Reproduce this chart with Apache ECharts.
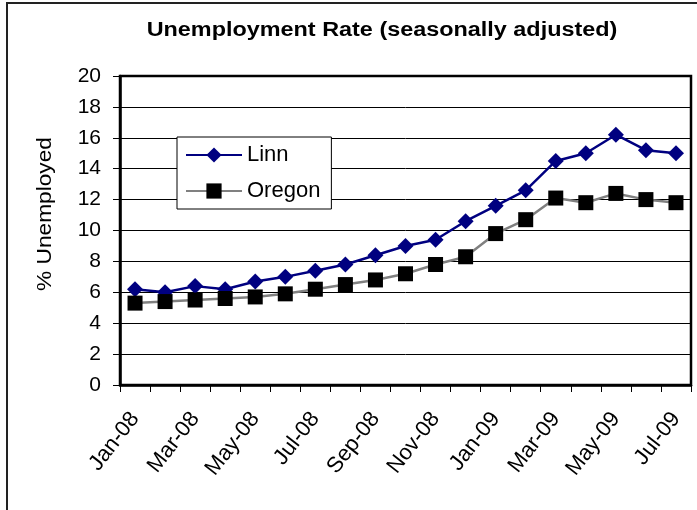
<!DOCTYPE html>
<html>
<head>
<meta charset="utf-8">
<script src="https://cdn.jsdelivr.net/npm/echarts@6/dist/echarts.min.js"></script>
<style>
  html, body { margin: 0; padding: 0; background: #fff; }
  #chart { width: 697px; height: 510px; }
</style>
</head>
<body>
<div id="chart"></div>
<script>
const months = ['Jan-08','Feb-08','Mar-08','Apr-08','May-08','Jun-08','Jul-08','Aug-08','Sep-08','Oct-08','Nov-08','Dec-08','Jan-09','Feb-09','Mar-09','Apr-09','May-09','Jun-09','Jul-09'];
const linn = [6.2, 6.0, 6.4, 6.2, 6.7, 7.0, 7.4, 7.8, 8.4, 9.0, 9.4, 10.6, 11.6, 12.6, 14.5, 15.0, 16.2, 15.2, 15.0];
const oregon = [5.3, 5.4, 5.5, 5.6, 5.7, 5.9, 6.2, 6.5, 6.8, 7.2, 7.8, 8.3, 9.8, 10.7, 12.1, 11.8, 12.4, 12.0, 11.8];
const yTicks = [0, 2, 4, 6, 8, 10, 12, 14, 16, 18, 20];
const titleText = 'Unemployment Rate (seasonally adjusted)';
const yName = '% Unemployed';

const FONT = 'Liberation Sans, Arial, sans-serif';
const chart = echarts.init(document.getElementById('chart'), null, { renderer: 'canvas' });
chart.setOption({
  animation: false,
  backgroundColor: '#fff',
  textStyle: { fontFamily: FONT },
  grid: {
    left: 120, right: 6, top: 76, bottom: 125,
    show: true, borderColor: '#000', borderWidth: 2.5, backgroundColor: 'transparent'
  },
  graphic: [
    { type: 'rect', shape: { x: 7, y: 3, width: 720, height: 540 }, style: { fill: 'none', stroke: '#222', lineWidth: 2 }, silent: true },
    { type: 'text', x: 382, y: 30, scaleX: 1.17, style: { text: titleText, fontFamily: FONT, fontWeight: 'bold', fontSize: 20, fill: '#000', textAlign: 'center', textVerticalAlign: 'middle' } },
    { type: 'text', x: 45, y: 214, rotation: Math.PI / 2, scaleX: 1.08, style: { text: yName, fontFamily: FONT, fontSize: 21, fill: '#000', textAlign: 'center', textVerticalAlign: 'middle' } }
  ],
  legend: {
    orient: 'vertical',
    left: 177, top: 137,
    padding: [7, 11, 7, 8],
    itemWidth: 56, itemHeight: 19, itemGap: 14,
    backgroundColor: '#fff',
    borderColor: '#000', borderWidth: 1,
    textStyle: { fontFamily: FONT, fontSize: 22, color: '#000' },
    data: ['Linn', 'Oregon']
  },
  xAxis: {
    type: 'category',
    data: months,
    boundaryGap: true,
    axisLine: { lineStyle: { color: '#000', width: 2.5 } },
    axisTick: { show: true, interval: 0, length: 7, lineStyle: { color: '#000', width: 1 } },
    axisLabel: { interval: 1, rotate: 52, fontSize: 22, color: '#000', fontFamily: FONT, margin: 30 },
    splitLine: { show: false }
  },
  yAxis: {
    type: 'value',
    min: 0, max: 20, interval: 2,
    axisLine: { show: true, lineStyle: { color: '#000', width: 2.5 } },
    axisTick: { show: true, inside: false, length: 7, lineStyle: { color: '#000', width: 1 } },
    axisLabel: { fontSize: 21, color: '#000', fontFamily: FONT, margin: 19,
      formatter: function (v) { return yTicks.indexOf(v) >= 0 ? String(v) : ''; } },
    splitLine: { show: true, lineStyle: { color: '#000', width: 1 } }
  },
  series: [
    {
      name: 'Linn', type: 'line', data: linn,
      symbol: 'diamond', symbolSize: 16,
      lineStyle: { color: '#000080', width: 2.5 },
      itemStyle: { color: '#000080' }
    },
    {
      name: 'Oregon', type: 'line', data: oregon,
      symbol: 'rect', symbolSize: 15,
      lineStyle: { color: '#808080', width: 2.5 },
      itemStyle: { color: '#000' }
    }
  ]
});
</script>
</body>
</html>
